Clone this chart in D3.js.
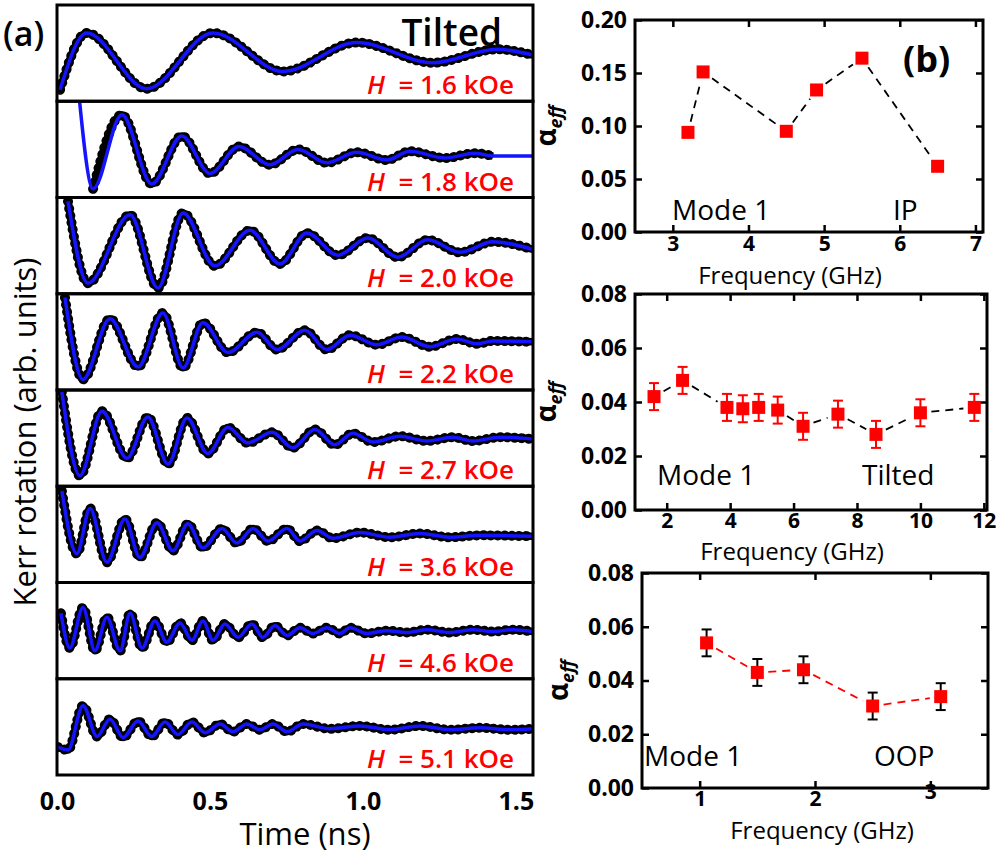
<!DOCTYPE html>
<html>
<head>
<meta charset="utf-8">
<script src="https://cdn.jsdelivr.net/npm/d3@7"></script>
<style>
  body { margin: 0; background: #fff; }
  text { font-family: 'Open Sans', sans-serif; }
</style>
</head>
<body>
<script>

// ---------- data: panel (a), Kerr rotation traces, [time (ns), signal (arb.)] ----------
const fields = ['1.6', '1.8', '2.0', '2.2', '2.7', '3.6', '4.6', '5.1']

const kerr16 = [[0.010,12],[0.097,71],[0.293,13],[0.510,71],[0.739,31],[0.980,61],[1.229,40],[1.438,54],[1.556,48]]
const kerr18 = [[0.070,112],[0.118,9],[0.212,86],[0.310,14],[0.408,64],[0.500,25],[0.595,53],[0.696,34],[0.788,50],[0.882,36],[0.980,47],[1.078,39],[1.154,48],[1.268,41],[1.366,46],[1.425,43],[1.556,43]]
const kerr20 = [[0.036,96],[0.101,11],[0.239,82],[0.330,6],[0.412,84],[0.516,29],[0.631,66],[0.729,31],[0.817,63],[0.918,40],[1.016,58],[1.114,38],[1.212,56],[1.317,43],[1.425,54],[1.556,46]]
const kerr22 = [[0.026,96],[0.085,11],[0.173,74],[0.265,24],[0.346,80],[0.412,23],[0.477,70],[0.559,39],[0.654,60],[0.719,42],[0.810,62],[0.882,42],[0.958,57],[1.046,47],[1.127,55],[1.219,45],[1.307,53],[1.373,48],[1.425,51],[1.556,50]]
const kerr27 = [[0.016,98],[0.075,11],[0.147,78],[0.229,29],[0.297,72],[0.363,23],[0.425,71],[0.493,34],[0.559,61],[0.624,45],[0.703,56],[0.771,40],[0.843,59],[0.908,43],[0.967,55],[1.033,46],[1.121,52],[1.209,47],[1.294,51],[1.359,47],[1.448,51],[1.556,49]]
const kerr36 = [[0.016,95],[0.065,30],[0.108,77],[0.163,21],[0.222,66],[0.271,26],[0.327,62],[0.379,33],[0.428,61],[0.477,36],[0.539,56],[0.588,41],[0.641,56],[0.690,43],[0.752,56],[0.794,43],[0.850,54],[0.902,46],[0.990,52],[1.088,47],[1.186,51],[1.284,47],[1.382,49],[1.556,48]]
const kerr46 = [[0.013,68],[0.042,32],[0.085,74],[0.124,29],[0.163,64],[0.206,29],[0.239,68],[0.278,32],[0.320,60],[0.359,38],[0.402,58],[0.441,40],[0.477,60],[0.510,40],[0.549,57],[0.592,43],[0.637,57],[0.673,43],[0.712,55],[0.752,45],[0.794,53],[0.837,47],[0.882,53],[0.925,47],[0.958,53],[1.013,47],[1.078,50],[1.144,48],[1.209,51],[1.284,48],[1.359,51],[1.425,49],[1.490,51],[1.556,49]]
const kerr51 = [[0.003,29],[0.036,26],[0.085,72],[0.131,40],[0.173,58],[0.216,39],[0.265,56],[0.310,40],[0.353,55],[0.395,42],[0.441,55],[0.484,44],[0.533,53],[0.575,45],[0.621,53],[0.663,47],[0.706,53],[0.752,45],[0.804,53],[0.892,48],[0.990,51],[1.088,47],[1.186,51],[1.284,47],[1.382,49],[1.480,47],[1.556,48]]

const traces = [kerr16, kerr18, kerr20, kerr22, kerr27, kerr36, kerr46, kerr51]
// time span covered by the measured points (the fit runs over the whole trace)
const measuredFrom = [0, 0.11, 0, 0, 0, 0, 0, 0]
const measuredTo   = [1.556, 1.425, 1.556, 1.556, 1.556, 1.556, 1.556, 1.556]
const timeTicks = [0, 0.5, 1.0, 1.5]

// ---------- data: panel (b), damping vs frequency ----------
const ipFreq  = [3.2, 3.4, 4.5, 4.9, 5.5, 6.5]
const ipAlpha = [0.094, 0.151, 0.095, 0.134, 0.164, 0.062]

const tiltFreq  = [1.6, 2.5, 3.9, 4.4, 4.9, 5.5, 6.3, 7.4, 8.6, 10.0, 11.7]
const tiltAlpha = [0.042, 0.048, 0.038, 0.0375, 0.038, 0.037, 0.031, 0.0355, 0.028, 0.036, 0.038]
const tiltErr   = [0.005, 0.005, 0.005, 0.005, 0.005, 0.005, 0.005, 0.005, 0.005, 0.005, 0.005]

const oopFreq  = [1.06, 1.5, 1.9, 2.5, 3.09]
const oopAlpha = [0.054, 0.043, 0.044, 0.0305, 0.034]
const oopErr   = [0.005, 0.005, 0.005, 0.005, 0.005]

const ipXTicks = [3, 4, 5, 6, 7]
const ipYTicks = [0, 0.05, 0.10, 0.15, 0.20]
const tiltXTicks = [2, 4, 6, 8, 10, 12]
const oopXTicks = [1, 2, 3]
const smallYTicks = [0, 0.02, 0.04, 0.06, 0.08]

// ---------- svg ----------
const w = 1004
const h = 857
const red = '#ff0000'
const blue = '#1414ff'
const tickFont = "'DejaVu Sans', sans-serif"

const svg = d3.select('body')
    .append('svg')
        .attr('width', w)
        .attr('height', h)

svg.append('rect')
    .attr('width', w)
    .attr('height', h)
    .attr('fill', '#fff')

// ---------- panel (a) ----------
const tScale = d3.scaleLinear()
    .domain([0, 1.556])
    .range([57, 533])

const boxBand = d3.scaleBand()
    .domain(fields)
    .range([5, 775])

fields.forEach((field, i) => {
    const top = boxBand(field)
    const bh = boxBand.bandwidth()
    const vScale = d3.scaleLinear().domain([0, 100]).range([top + bh, top])

    const clipId = 'clip-' + i
    svg.append('clipPath')
        .attr('id', clipId)
        .append('rect')
            .attr('x', tScale.range()[0])
            .attr('y', top)
            .attr('width', tScale.range()[1] - tScale.range()[0])
            .attr('height', bh)

    const g = svg.append('g').attr('clip-path', `url(#${clipId})`)

    const line = d3.line()
        .curve(d3.curveMonotoneX)
        .x(d => tScale(d[0]))
        .y(d => vScale(d[1]))

    const measured = traces[i].filter(d => d[0] >= measuredFrom[i] && d[0] <= measuredTo[i])

    // measured points: dense black dots
    g.append('path')
        .attr('d', line(measured))
        .attr('fill', 'none')
        .attr('stroke', '#000')
        .attr('stroke-width', 7.5)
    g.append('path')
        .attr('d', line(measured))
        .attr('fill', 'none')
        .attr('stroke', '#000')
        .attr('stroke-width', 10)
        .attr('stroke-linecap', 'round')
        .attr('stroke-dasharray', '0.1 7')

    // fit
    g.append('path')
        .attr('d', line(traces[i]))
        .attr('fill', 'none')
        .attr('stroke', blue)
        .attr('stroke-width', 3.5)

    svg.append('rect')
        .attr('x', tScale.range()[0])
        .attr('y', top)
        .attr('width', tScale.range()[1] - tScale.range()[0])
        .attr('height', bh)
        .attr('fill', 'none')
        .attr('stroke', '#000')
        .attr('stroke-width', 3)

    const lbl = svg.append('text')
        .attr('x', 514)
        .attr('y', top + bh - 7)
        .attr('text-anchor', 'end')
        .attr('fill', red)
        .style('font-size', '26px')
        .style('font-weight', 600)
        .style('white-space', 'pre')
    lbl.append('tspan').style('font-style', 'italic').text('H')
    lbl.append('tspan').text(`  = ${field} kOe`)
})

svg.append('text')
    .attr('x', 502)
    .attr('y', 46)
    .attr('text-anchor', 'end')
    .style('font-size', '37px')
    .style('font-weight', 600)
    .text('Tilted')

svg.append('text')
    .attr('x', 3)
    .attr('y', 46)
    .style('font-size', '34px')
    .style('font-weight', 600)
    .text('(a)')

const timeAxis = d3.axisBottom(tScale)
    .tickValues(timeTicks)
    .tickFormat(d3.format('.1f'))
    .tickSize(0)
    .tickPadding(17)

svg.append('g')
    .attr('transform', `translate(0, ${boxBand.range()[1]})`)
    .call(timeAxis)
    .call(g => g.select('.domain').remove())
    .call(g => g.selectAll('text')
        .attr('font-family', tickFont)
        .attr('font-weight', 'bold')
        .attr('font-size', 25)
        .attr('fill', '#000'))

svg.append('text')
    .attr('x', 305)
    .attr('y', 845)
    .attr('text-anchor', 'middle')
    .style('font-size', '31px')
    .style('font-weight', 500)
    .text('Time (ns)')

svg.append('text')
    .attr('transform', 'translate(36, 432) rotate(-90)')
    .attr('text-anchor', 'middle')
    .style('font-size', '31px')
    .style('font-weight', 500)
    .text('Kerr rotation (arb. units)')

// ---------- panel (b) ----------
const dashedWithGaps = (g, pts, gap, color, width) => {
    for (let i = 0; i < pts.length - 1; i++) {
        const [x1, y1] = pts[i]
        const [x2, y2] = pts[i + 1]
        const len = Math.hypot(x2 - x1, y2 - y1)
        if (len <= 2 * gap) continue
        const ux = (x2 - x1) / len
        const uy = (y2 - y1) / len
        g.append('line')
            .attr('x1', x1 + ux * gap)
            .attr('y1', y1 + uy * gap)
            .attr('x2', x2 - ux * gap)
            .attr('y2', y2 - uy * gap)
            .attr('stroke', color)
            .attr('stroke-width', width)
            .attr('stroke-dasharray', '8 6')
    }
}

const drawPanel = (opt) => {
    const x = d3.scaleLinear().domain(opt.xDomain).range(opt.xRange)
    const y = d3.scaleLinear().domain(opt.yDomain).range(opt.yRange)
    const g = svg.append('g')

    const styleTicks = (sel, size) => {
        sel.select('.domain').remove()
        sel.selectAll('line').attr('stroke', '#000').attr('stroke-width', 2.5)
        sel.selectAll('text')
            .attr('font-family', tickFont)
            .attr('font-weight', 'bold')
            .attr('font-size', size)
            .attr('fill', '#000')
    }

    g.append('g')
        .attr('transform', `translate(0, ${opt.yRange[0]})`)
        .call(d3.axisBottom(x).tickValues(opt.xTicks).tickFormat(d3.format('d')).tickSizeInner(-7).tickSizeOuter(0).tickPadding(opt.xPad))
        .call(styleTicks, 21)
    g.append('g')
        .attr('transform', `translate(0, ${opt.yRange[1]})`)
        .call(d3.axisTop(x).tickValues(opt.xTicks).tickFormat('').tickSizeInner(-7).tickSizeOuter(0))
        .call(styleTicks, 21)
    g.append('g')
        .attr('transform', `translate(${opt.xRange[0]}, 0)`)
        .call(d3.axisLeft(y).tickValues(opt.yTicks).tickFormat(d3.format('.2f')).tickSizeInner(-7).tickSizeOuter(0).tickPadding(8))
        .call(styleTicks, 23)
    g.append('g')
        .attr('transform', `translate(${opt.xRange[1]}, 0)`)
        .call(d3.axisRight(y).tickValues(opt.yTicks).tickFormat('').tickSizeInner(-7).tickSizeOuter(0))
        .call(styleTicks, 23)

    g.append('rect')
        .attr('x', opt.xRange[0])
        .attr('y', opt.yRange[1])
        .attr('width', opt.xRange[1] - opt.xRange[0])
        .attr('height', opt.yRange[0] - opt.yRange[1])
        .attr('fill', 'none')
        .attr('stroke', '#000')
        .attr('stroke-width', 3)

    const pts = opt.freq.map((f, i) => [x(f), y(opt.alpha[i])])
    dashedWithGaps(g, pts, 11, opt.lineColor, 1.8)

    if (opt.err) {
        opt.freq.forEach((f, i) => {
            const cx = x(f)
            const yt = y(opt.alpha[i] + opt.err[i])
            const yb = y(opt.alpha[i] - opt.err[i])
            const eg = g.append('g').attr('stroke', opt.errColor).attr('stroke-width', 2)
            eg.append('line').attr('x1', cx).attr('x2', cx).attr('y1', yt).attr('y2', yb)
            eg.append('line').attr('x1', cx - 5).attr('x2', cx + 5).attr('y1', yt).attr('y2', yt)
            eg.append('line').attr('x1', cx - 5).attr('x2', cx + 5).attr('y1', yb).attr('y2', yb)
        })
    }

    g.selectAll('.marker')
        .data(pts)
        .enter()
        .append('rect')
            .attr('class', 'marker')
            .attr('x', d => d[0] - 6.5)
            .attr('y', d => d[1] - 6.5)
            .attr('width', 13)
            .attr('height', 13)
            .attr('fill', red)

    g.append('text')
        .attr('x', (opt.xRange[0] + opt.xRange[1]) / 2 + opt.titleShift)
        .attr('y', opt.titleY)
        .attr('text-anchor', 'middle')
        .style('font-size', '24px')
        .style('font-weight', 500)
        .text('Frequency (GHz)')

    const yl = g.append('text')
        .attr('transform', `translate(${opt.alphaX}, ${(opt.yRange[0] + opt.yRange[1]) / 2}) rotate(-90)`)
        .attr('text-anchor', 'middle')
        .attr('font-family', tickFont)
        .attr('font-weight', 'bold')
    yl.append('tspan').attr('font-size', 28).text('α')
    yl.append('tspan').attr('font-size', 18).attr('font-style', 'italic').attr('dy', 6).text('eff')

    g.append('text')
        .attr('x', opt.modeX)
        .attr('y', opt.labelY)
        .style('font-size', '28px')
        .style('font-weight', 500)
        .text('Mode 1')
    g.append('text')
        .attr('x', opt.tagX)
        .attr('y', opt.labelY)
        .style('font-size', '28px')
        .style('font-weight', 500)
        .text(opt.tag)

    return g
}

drawPanel({
    xDomain: [2.5, 7.1], xRange: [635, 983],
    yDomain: [0, 0.2], yRange: [232, 20],
    xTicks: ipXTicks, yTicks: ipYTicks, xPad: 4,
    freq: ipFreq, alpha: ipAlpha,
    lineColor: '#000', titleY: 284, titleShift: -19, alphaX: 556,
    modeX: 672, tag: 'IP', tagX: 893, labelY: 220
})

svg.append('text')
    .attr('x', 903)
    .attr('y', 72)
    .style('font-size', '36px')
    .style('font-weight', 'bold')
    .text('(b)')

drawPanel({
    xDomain: [1, 12.1], xRange: [635, 987],
    yDomain: [0, 0.08], yRange: [510, 294],
    xTicks: tiltXTicks, yTicks: smallYTicks, xPad: 3,
    freq: tiltFreq, alpha: tiltAlpha, err: tiltErr, errColor: red,
    lineColor: '#000', titleY: 560, titleShift: -19, alphaX: 556,
    modeX: 657, tag: 'Tilted', tagX: 862, labelY: 485
})

const oop = drawPanel({
    xDomain: [0.5, 3.5], xRange: [642, 988],
    yDomain: [0, 0.08], yRange: [788, 573],
    xTicks: oopXTicks, yTicks: smallYTicks, xPad: 3,
    freq: oopFreq, alpha: oopAlpha, err: oopErr, errColor: '#000',
    lineColor: red, titleY: 839, titleShift: 7, alphaX: 568,
    modeX: 644, tag: 'OOP', tagX: 874, labelY: 766
})
oop.selectAll('text').filter(d => d === 3).attr('dy', '0.4em')

</script>
</body>
</html>
